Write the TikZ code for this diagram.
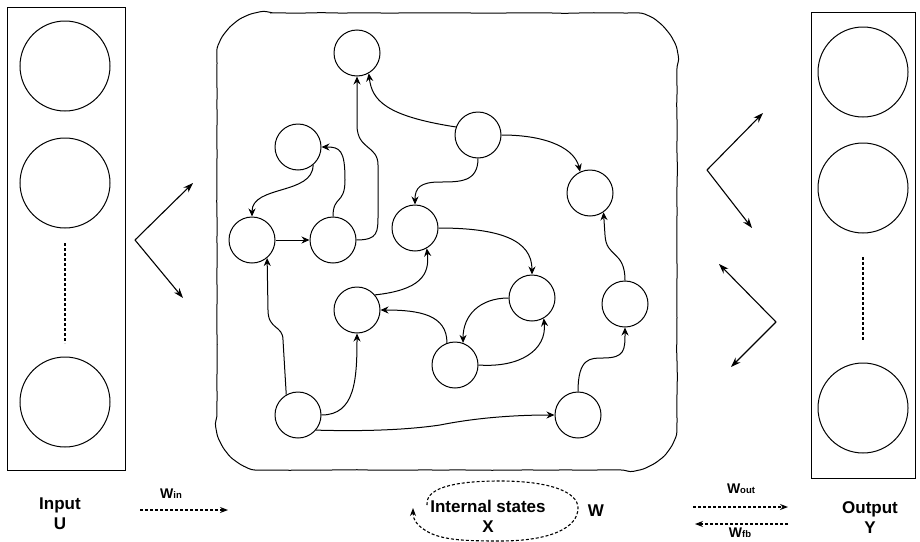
\documentclass[tikz,border=0pt]{standalone}
\usepackage{fontspec}
\setmainfont{Liberation Sans}
\usetikzlibrary{arrows.meta,decorations.pathmorphing}

\tikzset{
  state/.style={circle, draw, line width=1pt, minimum size=46pt, inner sep=0pt},
  unit/.style={circle, draw, line width=1pt, minimum size=90pt, inner sep=0pt},
  link/.style={line width=1pt, -{Stealth[length=8pt,width=7pt]}},
  weight/.style={line width=1.1pt, -{Stealth[length=10pt,width=7pt]}},
  flow/.style={line width=1.1pt, dash pattern=on 3pt off 2pt, -{Stealth[length=8pt,width=6pt]}},
  dots/.style={line width=1.1pt, dash pattern=on 3pt off 2pt},
  lbl/.style={font=\fontsize{17}{20}\selectfont\bfseries, align=center, inner sep=0pt},
  wlbl/.style={font=\fontsize{14}{16}\selectfont\bfseries, inner sep=0pt},
}
\newcommand{\smallsub}[1]{{\fontsize{9.5}{11}\selectfont #1}}

\begin{document}
\begin{tikzpicture}[x=1pt, y=-1pt]
    \useasboundingbox (0,0) rectangle (920,541);
    % input layer
    \draw [line width=1pt] (7,7) rectangle (125,470);
    \node[unit] (u1) at (65,66) {};
    \node[unit] (u2) at (65,183) {};
    \node[unit] (u3) at (65,402) {};
    \draw [dots] (65,243) -- (65,343);
    % output layer
    \draw [line width=1pt] (811,12) rectangle (915,478);
    \node[unit] (y1) at (863,72) {};
    \node[unit] (y2) at (863,188) {};
    \node[unit] (y3) at (863,408) {};
    \draw [dots] (863,257) -- (863,340);
    % reservoir
    \pgfmathsetseed{7}
    \draw [line width=1pt, decorate, decoration={random steps, segment length=12pt, amplitude=0.3pt}, rounded corners=3pt]
        (267,13) -- (627,13) .. controls (654.6,13) and (677,35.4) .. (677,63)
        -- (677,420) .. controls (677,447.6) and (654.6,470) .. (627,470)
        -- (267,470) .. controls (239.4,470) and (217,447.6) .. (217,420)
        -- (217,63) .. controls (217,35.4) and (239.4,13) .. (267,13) -- cycle;
    \node[state] (s1) at (357,53) {};
    \node[state] (s2) at (298,147) {};
    \node[state] (s3) at (252,240) {};
    \node[state] (s4) at (333,240) {};
    \node[state] (s5) at (415,228) {};
    \node[state] (s6) at (478,135) {};
    \node[state] (s7) at (590,193) {};
    \node[state] (s8) at (357,310) {};
    \node[state] (s9) at (532,298) {};
    \node[state] (s10) at (455,365) {};
    \node[state] (s11) at (625,304) {};
    \node[state] (s12) at (298,415) {};
    \node[state] (s13) at (578,415) {};
    \draw [link] (s3) -- (s4);
    \draw [link] (s2.-50) .. controls (313,195) and (252,185) .. (s3.north);
    \draw [link] (s4.north) .. controls (333,195) and (345,205) .. (345,180) .. controls (345,150) and (340,147) .. (s2.east);
    \draw [link] (s4.east) .. controls (378,240) and (378,232) .. (378,215) -- (378,165) .. controls (378,145) and (357,150) .. (357,125) -- (s1.south);
    \draw [link] (s6.160) .. controls (385,116) and (372,100) .. (s1.-60);
    \draw [link] (s6.south) .. controls (478,182) and (460,182) .. (440,182) .. controls (420,182) and (415,188) .. (s5.north);
    \draw [link] (s6.east) .. controls (550,135) and (575,150) .. (s7.115);
    \draw [link] (s5.east) .. controls (500,228) and (532,240) .. (s9.north);
    \draw [link] (s8.40) .. controls (420,290) and (430,275) .. (s5.-60);
    \draw [link] (s10.110) .. controls (447,315) and (420,310) .. (s8.east);
    \draw [link] (s9.west) .. controls (480,298) and (463,315) .. (s10.70);
    \draw [link] (s10.east) .. controls (520,368) and (547,350) .. (s9.-60);
    \draw [link] (s12.120) -- (283,340) .. controls (283,325) and (268,330) .. (268,310) -- (s3.-50);
    \draw [link] (s12.east) .. controls (355,415) and (357,380) .. (s8.south);
    \draw [link] (s12.-40) .. controls (380,432) and (420,428) .. (440,425) .. controls (480,417) and (520,415) .. (s13.west);
    \draw [link] (s13.north) .. controls (578,358) and (590,358) .. (603,358) .. controls (625,358) and (625,350) .. (s11.south);
    \draw [link] (s11.north) .. controls (625,250) and (606,258) .. (605,235) -- (s7.-55);
    % weight arrows
    \coordinate (vin) at (135,240);
    \coordinate (vinA) at (193,183);
    \coordinate (vinB) at (183,298);
    \draw [weight] (vin) -- (vinA);
    \draw [weight] (vin) -- (vinB);
    \coordinate (vout) at (707,170);
    \coordinate (voutA) at (763,113);
    \coordinate (voutB) at (752,228);
    \draw [weight] (vout) -- (voutA);
    \draw [weight] (vout) -- (voutB);
    \coordinate (vfb) at (776,322);
    \coordinate (vfbA) at (719,264);
    \coordinate (vfbB) at (731,367);
    \draw [weight] (vfb) -- (vfbA);
    \draw [weight] (vfb) -- (vfbB);
    % legend
    \node[lbl] (inlab) at (60,514) {Input\\U};
    \coordinate (winA) at (140,510);
    \coordinate (winB) at (228,510);
    \draw [flow] (winA) -- (winB);
    \node[wlbl] (win) at (171,494) {W\smallsub{in}};
    \node[lbl] (xlab) at (488,516) {Internal states\\X};
    \node[lbl] (wlab) at (596,511) {W};
    \draw [flow] (427,505) .. controls (425,485) and (465,481) .. (500,481)
        .. controls (550,481) and (578,492) .. (578,508)
        .. controls (578,528) and (550,541) .. (500,541)
        .. controls (465,541) and (445,540) .. (430,533)
        .. controls (418,527) and (413,520) .. (413,508);
    \coordinate (woutA) at (693,507);
    \coordinate (woutB) at (788,507);
    \draw [flow] (woutA) -- (woutB);
    \coordinate (wfbA) at (788,524);
    \coordinate (wfbB) at (695,524);
    \draw [flow] (wfbA) -- (wfbB);
    \node[wlbl] (wout) at (741,489) {W\smallsub{out}};
    \node[wlbl] (wfb) at (740,533) {W\smallsub{fb}};
    \node[lbl] (outlab) at (870,518) {Output\\Y};
\end{tikzpicture}
\end{document}
